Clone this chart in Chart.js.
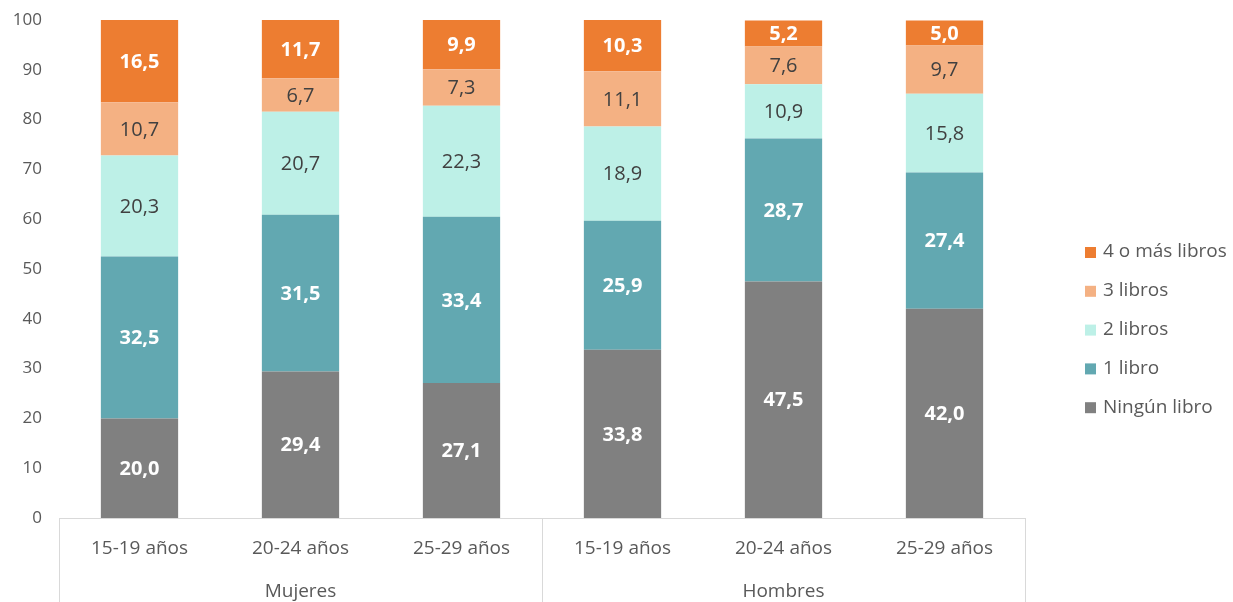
<!DOCTYPE html>
<html lang="es">

<head>
    <meta charset="UTF-8">
    <script src="https://cdn.jsdelivr.net/npm/chart.js@4.4.0/dist/chart.umd.min.js"></script>
    <title>Libros</title>
    <style>
        body { margin: 0; background: #fff; }
        #wrap { width: 1233px; height: 602px; }
    </style>
</head>

<body>
    <div id="wrap"><canvas id="grafico"></canvas></div>
</body>

<script>
    // categorías
    const edades = ['15-19 años', '20-24 años', '25-29 años', '15-19 años', '20-24 años', '25-29 años'];
    const grupos = ['Mujeres', 'Hombres'];
    const yTicks = [0, 10, 20, 30, 40, 50, 60, 70, 80, 90, 100];

    // series (%)
    const ningunLibro = [20.0, 29.4, 27.1, 33.8, 47.5, 42.0];
    const unLibro = [32.5, 31.5, 33.4, 25.9, 28.7, 27.4];
    const dosLibros = [20.3, 20.7, 22.3, 18.9, 10.9, 15.8];
    const tresLibros = [10.7, 6.7, 7.3, 11.1, 7.6, 9.7];
    const cuatroMas = [16.5, 11.7, 9.9, 10.3, 5.2, 5.0];

    const fuente = '"Open Sans", Lato, sans-serif';
    const gris = '#595959';

    // etiquetas dentro de las barras
    const etiquetas = {
        id: 'etiquetas',
        afterDatasetsDraw(chart) {
            let ctx = chart.ctx;
            ctx.save();
            ctx.textAlign = 'center';
            ctx.textBaseline = 'middle';
            chart.data.datasets.forEach(function (ds, i) {
                let meta = chart.getDatasetMeta(i);
                meta.data.forEach(function (bar, j) {
                    let y = (bar.y + bar.base) / 2;
                    ctx.fillStyle = ds.labelColor;
                    ctx.font = ds.labelWeight + ' 20px ' + fuente;
                    ctx.fillText(ds.data[j].toFixed(1).replace('.', ','), bar.x, y + 1);
                });
            });
            ctx.restore();
        }
    };

    // eje inferior con separadores y leyenda a la derecha
    const marco = {
        id: 'marco',
        afterDraw(chart) {
            let ctx = chart.ctx;
            let a = chart.chartArea;
            ctx.save();
            ctx.strokeStyle = '#D9D9D9';
            ctx.lineWidth = 1;
            ctx.beginPath();
            ctx.moveTo(a.left, a.bottom + 0.5);
            ctx.lineTo(a.right, a.bottom + 0.5);
            let xs = [a.left, (a.left + a.right) / 2, a.right];
            xs.forEach(function (x) {
                ctx.moveTo(Math.round(x) + 0.5, a.bottom);
                ctx.lineTo(Math.round(x) + 0.5, chart.height);
            });
            ctx.stroke();

            // leyenda (orden inverso)
            let n = chart.data.datasets.length;
            ctx.font = '19px ' + fuente;
            ctx.textBaseline = 'middle';
            ctx.textAlign = 'left';
            for (let k = 0; k < n; k++) {
                let ds = chart.data.datasets[n - 1 - k];
                let y = 252 + k * 38.8;
                ctx.fillStyle = ds.backgroundColor;
                ctx.fillRect(a.right + 60, y - 5, 11, 11);
                ctx.fillStyle = gris;
                ctx.fillText(ds.label, a.right + 78, y);
            }
            ctx.restore();
        }
    };

    const datos = {
        labels: edades,
        datasets: [
            { label: 'Ningún libro', data: ningunLibro, backgroundColor: '#808080', labelColor: '#FFFFFF', labelWeight: 'bold' },
            { label: '1 libro', data: unLibro, backgroundColor: '#62A8B1', labelColor: '#FFFFFF', labelWeight: 'bold' },
            { label: '2 libros', data: dosLibros, backgroundColor: '#BDF0E7', labelColor: '#404040', labelWeight: 'normal' },
            { label: '3 libros', data: tresLibros, backgroundColor: '#F4B183', labelColor: '#404040', labelWeight: 'normal' },
            { label: '4 o más libros', data: cuatroMas, backgroundColor: '#ED7D31', labelColor: '#FFFFFF', labelWeight: 'bold' }
        ]
    };
    datos.datasets.forEach(function (ds) {
        ds.barPercentage = 0.48;
        ds.categoryPercentage = 1;
        ds.xAxisID = 'x';
    });

    new Chart(document.getElementById('grafico'), {
        type: 'bar',
        data: datos,
        options: {
            responsive: true,
            maintainAspectRatio: false,
            animation: false,
            layout: { padding: { top: 20, right: 208, bottom: 0, left: 0 } },
            plugins: {
                legend: { display: false },
                tooltip: { enabled: false }
            },
            scales: {
                x: {
                    stacked: true,
                    grid: { display: false, drawTicks: false },
                    border: { display: false },
                    ticks: { color: gris, font: { family: fuente, size: 19 }, padding: 19, maxRotation: 0 },
                    afterFit: function (s) { s.height = 58; s.paddingLeft = 0; s.paddingRight = 0; }
                },
                x2: {
                    type: 'category',
                    labels: grupos,
                    position: 'bottom',
                    offset: true,
                    grid: { display: false, drawTicks: false },
                    border: { display: false },
                    ticks: { color: gris, font: { family: fuente, size: 19 }, padding: 4 },
                    afterFit: function (s) { s.height = 26; s.paddingLeft = 0; s.paddingRight = 0; }
                },
                y: {
                    stacked: true,
                    min: 0,
                    max: 100,
                    grid: { display: false, drawTicks: false },
                    border: { display: false },
                    afterBuildTicks: function (s) { s.ticks = yTicks.map(function (v) { return { value: v }; }); },
                    ticks: { color: gris, font: { family: fuente, size: 17 }, padding: 17 },
                    afterFit: function (s) { s.width = 59; s.paddingTop = 0; s.paddingBottom = 0; }
                }
            }
        },
        plugins: [etiquetas, marco]
    });
</script>

</html>
